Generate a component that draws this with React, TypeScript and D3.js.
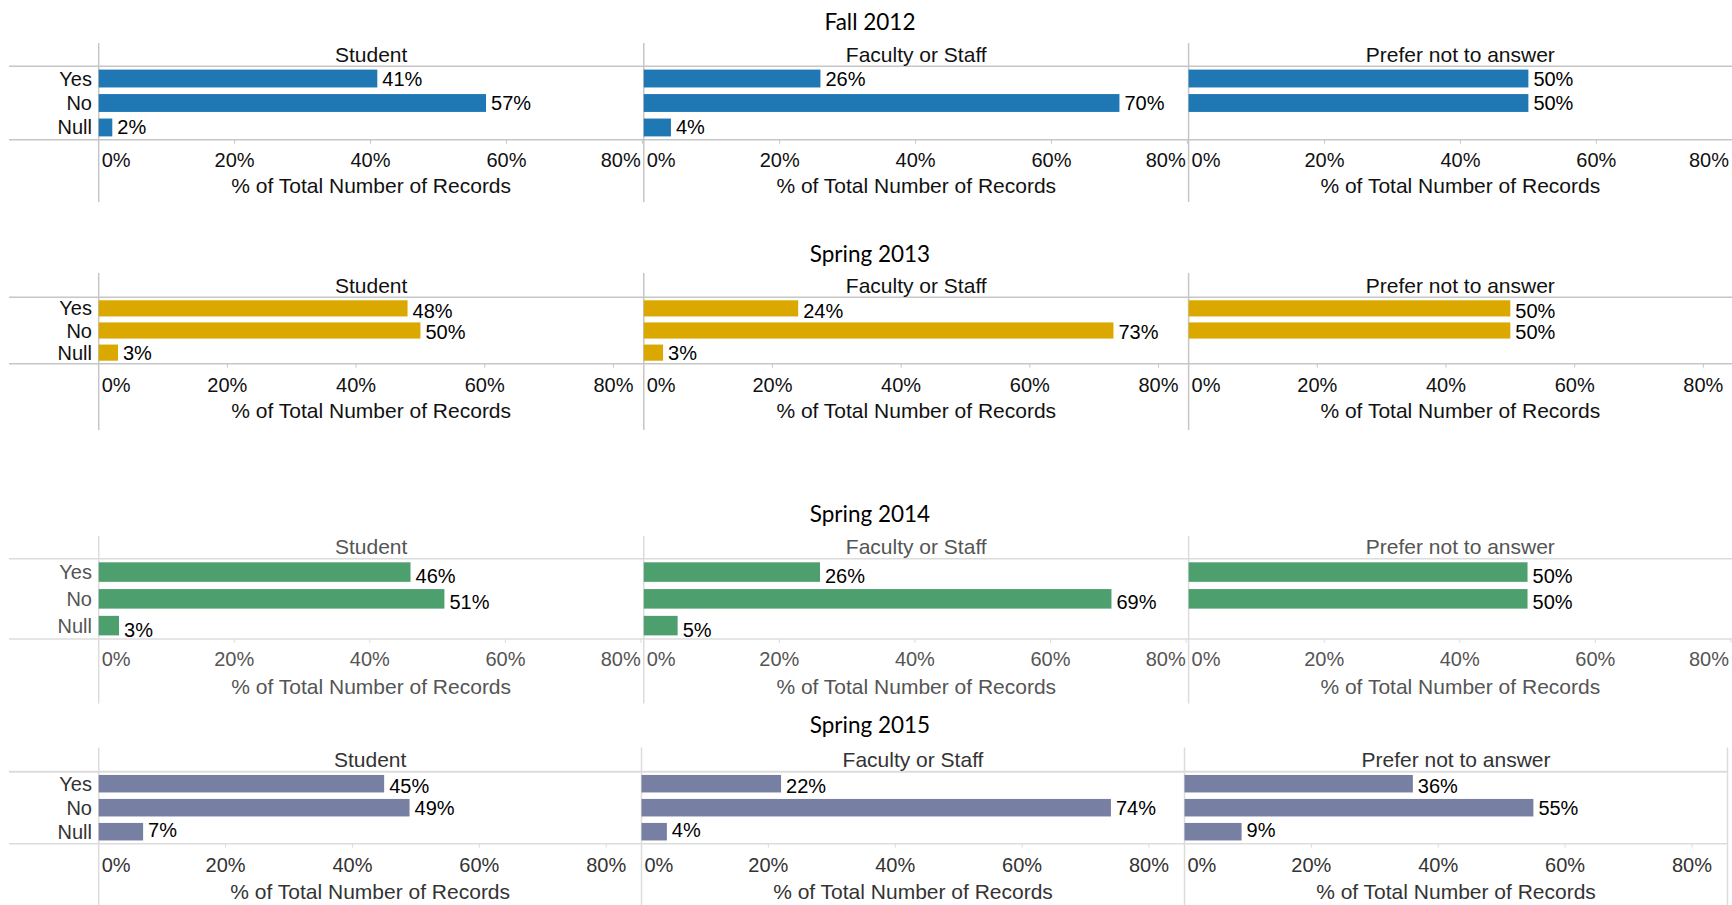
import React from 'react';
import * as d3 from 'd3';

// Survey answers by term, role and answer (percent of records)
const terms = ['Fall 2012', 'Spring 2013', 'Spring 2014', 'Spring 2015'];
const roles = ['Student', 'Faculty or Staff', 'Prefer not to answer'];
const answers = ['Yes', 'No', 'Null'];
const ticks = [0, 20, 40, 60, 80];
const axisTitle = '% of Total Number of Records';

// values[role][answer], null = no bar
const fall2012 = [[41, 57, 2], [26, 70, 4], [50, 50, null]];
const spring2013 = [[48, 50, 3], [24, 73, 3], [50, 50, null]];
const spring2014 = [[46, 51, 3], [26, 69, 5], [50, 50, null]];
const spring2015 = [[45, 49, 7], [22, 74, 4], [36, 55, 9]];
const termValues = [fall2012, spring2013, spring2014, spring2015];

const termColors = ['#1f77b4', '#dba800', '#4e9f6e', '#7780a2'];

const W = 1732;
const H = 905;
const FONT = '"Liberation Sans", Arial, sans-serif';
const TITLE_FONT = 'Lato, "Open Sans", sans-serif';

// layout of each term block (pixel positions)
const sections = [
  { titleY: 30, vTop: 43, headerY: 61.5, top: 66.3, bottom: 139.7, tickY: 166.5, axisY: 192.5, vBottom: 202,
    xMax: 80.2, lefts: [98.7, 643.75, 1188.6], width: 545, rightLine: false,
    text: '#111', line: '#c6c6c6', labelDy: [0, 0, 0] },
  { titleY: 261.5, vTop: 273, headerY: 292.5, top: 297.3, bottom: 363.7, tickY: 391.5, axisY: 418, vBottom: 430,
    xMax: 84.7, lefts: [98.7, 643.75, 1188.6], width: 545, rightLine: false,
    text: '#111', line: '#c6c6c6', labelDy: [3, 1, 0] },
  { titleY: 521.5, vTop: 536, headerY: 554, top: 558.7, bottom: 639, tickY: 665.5, axisY: 694, vBottom: 703.5,
    xMax: 80.4, lefts: [98.7, 643.75, 1188.6], width: 545, rightLine: false,
    text: '#555', line: '#dcdcdc', labelDy: [4, 3, 4] },
  { titleY: 733, vTop: 747.5, headerY: 766.5, top: 771.7, bottom: 843.7, tickY: 872, axisY: 899, vBottom: 905,
    xMax: 85.6, lefts: [98.7, 641.5, 1184.5], width: 543, rightLine: true,
    text: '#333', line: '#dcdcdc', labelDy: [2, 0, -2] },
];

const approxWidth = (s: string, size: number) =>
  s.split('').reduce((w, c) => w + (c === '%' ? 0.889 : 0.556), 0) * size;

function Section({ idx }: { idx: number }) {
  const s = sections[idx];
  const values = termValues[idx];
  const color = termColors[idx];
  const right = Math.min(s.lefts[2] + s.width, W);

  const y = d3.scaleBand<string>()
    .domain(answers)
    .range([s.top, s.bottom])
    .paddingInner(0.27)
    .paddingOuter(0.135);

  return (
    <g>
      <text x={870} y={s.titleY} textAnchor="middle" fontFamily={TITLE_FONT} fontSize={22.5} fill="#000">
        {terms[idx]}
      </text>

      {/* horizontal rules */}
      <line x1={9} x2={right} y1={s.top} y2={s.top} stroke={s.line} strokeWidth={idx === 3 ? 2 : 1.5} />
      <line x1={9} x2={right} y1={s.bottom} y2={s.bottom} stroke={s.line} strokeWidth={1.5} />

      {/* row labels */}
      {answers.map((a) => (
        <text key={a} x={92} y={(y(a) ?? 0) + y.bandwidth() / 2} dy="0.35em" textAnchor="end"
          fontFamily={FONT} fontSize={20} fill={s.text}>{a}</text>
      ))}

      {roles.map((role, ri) => {
        const left = s.lefts[ri];
        const x = d3.scaleLinear().domain([0, s.xMax]).range([left, left + s.width]);
        const pRight = Math.min(left + s.width, W);
        const mid = (left + pRight) / 2;
        return (
          <g key={role}>
            <line x1={left} x2={left} y1={s.vTop} y2={s.vBottom} stroke={s.line} strokeWidth={1.5} />
            <text x={mid} y={s.headerY} textAnchor="middle" fontFamily={FONT} fontSize={21} fill={s.text}>
              {role}
            </text>

            {answers.map((a, ai) => {
              const v = values[ri][ai];
              if (v == null) return null;
              const by = y(a) ?? 0;
              return (
                <g key={a}>
                  <rect x={x(0)} y={by} width={x(v) - x(0)} height={y.bandwidth()} fill={color} />
                  <text x={x(v) + 5} y={by + y.bandwidth() / 2 + s.labelDy[ai]} dy="0.35em"
                    fontFamily={FONT} fontSize={20} fill="#000">{`${v}%`}</text>
                </g>
              );
            })}

            {ticks.map((t) => {
              const tx = x(t);
              const label = `${t}%`;
              const half = approxWidth(label, 20) / 2;
              let lx = tx;
              let anchor: 'start' | 'middle' | 'end' = 'middle';
              if (tx - half < left + 2) { lx = left + 3; anchor = 'start'; }
              else if (tx + half > pRight - 2) { lx = pRight - 3; anchor = 'end'; }
              return (
                <g key={t}>
                  {t > 0 && tx < W && (
                    <line x1={tx} x2={tx} y1={s.bottom} y2={s.bottom + 4} stroke={s.line} strokeWidth={1} />
                  )}
                  <text x={lx} y={s.tickY} textAnchor={anchor} fontFamily={FONT} fontSize={20} fill={s.text}>
                    {label}
                  </text>
                </g>
              );
            })}

            <text x={mid} y={s.axisY} textAnchor="middle" fontFamily={FONT} fontSize={21} fill={s.text}>
              {axisTitle}
            </text>
          </g>
        );
      })}

      {s.rightLine && (
        <line x1={right} x2={right} y1={s.vTop} y2={s.vBottom} stroke={s.line} strokeWidth={1.5} />
      )}
    </g>
  );
}

export default function App() {
  return (
    <svg width={W} height={H} style={{ position: 'absolute', left: 0, top: 0, background: '#fff' }}>
      <rect width={W} height={H} fill="#fff" />
      {terms.map((t, i) => <Section key={t} idx={i} />)}
    </svg>
  );
}
